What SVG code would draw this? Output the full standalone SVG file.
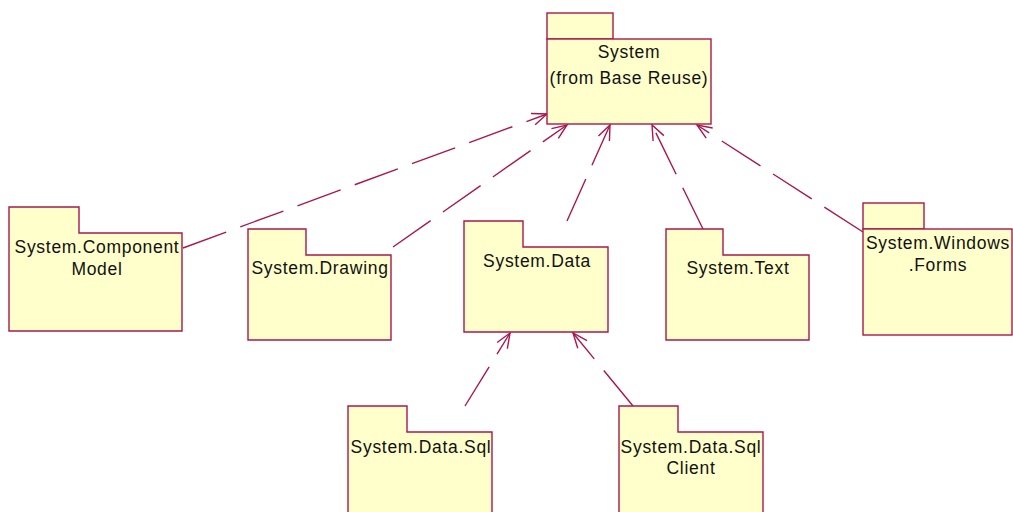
<svg xmlns="http://www.w3.org/2000/svg" width="1013" height="512" viewBox="0 0 1013 512">
<style>
.pk{fill:#FFFFCC;stroke:#A8184E;stroke-width:1.4}
.t{font-family:"Liberation Sans",Arial,sans-serif;font-size:17.5px;letter-spacing:0.7px;fill:#111;text-anchor:middle}
.c{fill:none;stroke:#A8184E;stroke-width:1.4;stroke-dasharray:46 15}
</style>
<defs>
<marker id="arr" markerUnits="userSpaceOnUse" markerWidth="20" markerHeight="16" viewBox="-16 -8 18 16" refX="0" refY="0" orient="auto">
<path d="M-14.8,-6 L0,0 L-14.8,6" fill="none" stroke="#A8184E" stroke-width="1.4"/>
</marker>
</defs>
<rect width="1013" height="512" fill="#fff"/>
<g id="connectors">
<line class="c" x1="183" y1="248" x2="547" y2="114" marker-end="url(#arr)"/>
<line class="c" x1="393" y1="247" x2="567" y2="125" marker-end="url(#arr)"/>
<line class="c" x1="567" y1="221" x2="610" y2="125" marker-end="url(#arr)"/>
<line class="c" x1="703" y1="229" x2="652" y2="125" marker-end="url(#arr)"/>
<line class="c" x1="863" y1="232" x2="697" y2="125" marker-end="url(#arr)"/>
<line class="c" x1="465" y1="406" x2="510" y2="333" marker-end="url(#arr)"/>
<line class="c" x1="633" y1="406" x2="573" y2="333" marker-end="url(#arr)"/>
</g>
<g id="system">
<rect class="pk" x="547" y="13" width="66" height="26"/>
<rect class="pk" x="547" y="39" width="164" height="85"/>
<text class="t" x="629" y="58">System</text>
<text class="t" x="629" y="84">(from Base Reuse)</text>
</g>
<g id="componentmodel">
<path class="pk" d="M9,207 H79 V233 H182 V331 H9 Z"/>
<text class="t" x="97" y="253">System.Component</text>
<text class="t" x="97" y="275">Model</text>
</g>
<g id="drawing">
<path class="pk" d="M248,229 H306 V255 H391 V340 H248 Z"/>
<text class="t" x="320" y="274">System.Drawing</text>
</g>
<g id="data">
<path class="pk" d="M464,221 H523 V247 H608 V332 H464 Z"/>
<text class="t" x="537" y="267">System.Data</text>
</g>
<g id="text">
<path class="pk" d="M666,229 H723 V255 H809 V340 H666 Z"/>
<text class="t" x="738" y="274">System.Text</text>
</g>
<g id="windowsforms">
<rect class="pk" x="863" y="203" width="61" height="26"/>
<rect class="pk" x="863" y="229" width="149" height="106"/>
<text class="t" x="938" y="249">System.Windows</text>
<text class="t" x="938" y="271">.Forms</text>
</g>
<g id="datasql">
<path class="pk" d="M348,406 H407 V432 H492 V522 H348 Z"/>
<text class="t" x="421" y="453">System.Data.Sql</text>
</g>
<g id="datasqlclient">
<path class="pk" d="M619,406 H678 V432 H763 V522 H619 Z"/>
<text class="t" x="691" y="453">System.Data.Sql</text>
<text class="t" x="691" y="474">Client</text>
</g>
</svg>
